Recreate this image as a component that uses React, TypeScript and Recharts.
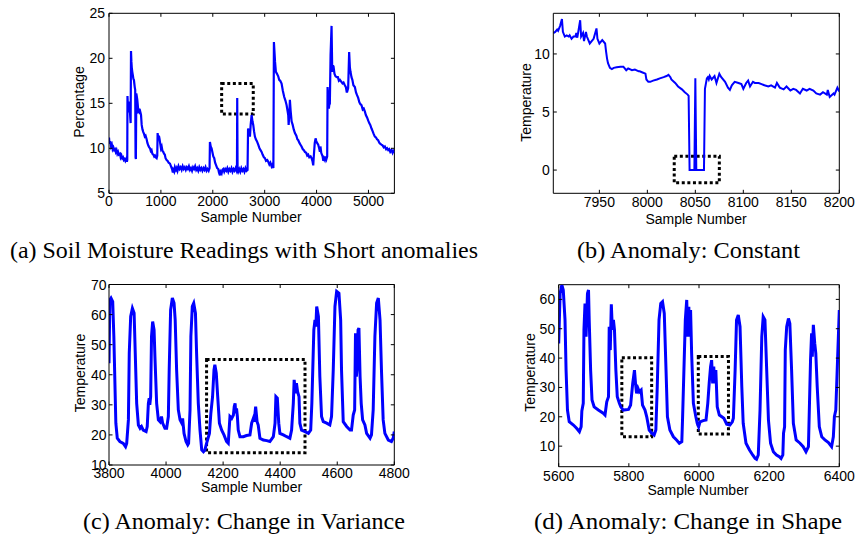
import React from "react";
import { LineChart, Line, XAxis, YAxis, ReferenceArea, ReferenceLine } from "recharts";

// ---------- data ----------
// (a) soil moisture: [sample, percentage]
const soilMoisture: [number, number][] = [
  [0, 11.2], [10, 10.5], [25, 10.8], [40, 10.2], [55, 10.4], [70, 9.9], [85, 10.1], [100, 9.8], [116, 9.9], [130, 9.6],
  [145, 9.8], [160, 9.4], [175, 9.6], [190, 9.3], [212, 9.4], [225, 9.0], [240, 9.2], [255, 8.9], [270, 9.0], [285, 8.7],
  [300, 8.8], [315, 8.6], [330, 8.8], [345, 8.5], [352, 8.7], [356, 15.8], [366, 14.5], [378, 15.2], [390, 14.0], [400, 14.4],
  [410, 13.4], [417, 12.8], [424, 20.8], [432, 19.6], [440, 18.9], [449, 18.5], [460, 18.1], [470, 17.7], [480, 17.6], [488, 17.2],
  [496, 16.8], [505, 16.5], [512, 9.0], [518, 8.8], [526, 16.1], [535, 15.8], [545, 15.4], [555, 14.8], [565, 14.1], [580, 14.2],
  [595, 13.8], [605, 14.0], [617, 13.7], [630, 12.6], [645, 12.1], [661, 11.8], [675, 11.6], [690, 11.3], [705, 11.4], [725, 11.0],
  [740, 10.6], [758, 10.3], [775, 10.1], [790, 10.0], [805, 9.7], [820, 9.8], [835, 9.4], [854, 9.3], [870, 9.1], [885, 9.2],
  [900, 9.0], [918, 8.9], [930, 9.2], [937, 11.7], [950, 11.0], [962, 11.4], [975, 11.0], [990, 10.4], [1001, 10.0], [1015, 10.2],
  [1030, 9.7], [1046, 9.6], [1060, 9.4], [1075, 9.3], [1090, 8.9], [1111, 8.7], [1130, 8.6], [1150, 8.4], [1175, 8.3], [1195, 8.0],
  [1215, 7.7], [1230, 7.3], [1239, 7.6], [1255, 7.4], [1270, 7.9], [1290, 7.6], [1304, 7.8], [1320, 7.5], [1340, 8.0], [1360, 7.7],
  [1380, 7.9], [1400, 7.6], [1420, 8.0], [1440, 7.7], [1460, 7.9], [1480, 7.6], [1500, 7.9], [1520, 7.7], [1540, 8.0], [1560, 7.6],
  [1580, 7.8], [1600, 7.5], [1620, 7.9], [1640, 7.7], [1660, 8.0], [1680, 7.6], [1700, 7.8], [1720, 7.5], [1740, 7.9], [1760, 7.6],
  [1780, 7.8], [1800, 7.5], [1820, 7.8], [1840, 7.6], [1860, 7.9], [1880, 7.5], [1900, 7.7], [1920, 7.5], [1938, 7.8], [1945, 10.7],
  [1960, 10.2], [1977, 10.0], [1995, 9.5], [2010, 9.1], [2028, 8.9], [2045, 8.4], [2065, 8.1], [2085, 7.8], [2105, 7.7], [2120, 7.3],
  [2138, 7.0], [2150, 7.4], [2170, 7.2], [2185, 7.6], [2202, 7.7], [2220, 7.4], [2240, 7.7], [2260, 7.5], [2280, 7.8], [2300, 7.4],
  [2320, 7.7], [2340, 7.5], [2360, 7.8], [2380, 7.4], [2400, 7.7], [2420, 7.5], [2440, 7.8], [2460, 7.5], [2466, 7.7], [2471, 15.6],
  [2478, 7.6], [2490, 7.4], [2510, 7.7], [2530, 7.4], [2550, 7.8], [2570, 7.5], [2590, 7.7], [2610, 7.4], [2630, 7.8], [2650, 7.5],
  [2670, 7.6], [2680, 12.2], [2695, 11.6], [2705, 12.0], [2716, 11.3], [2730, 12.6], [2748, 13.7], [2765, 13.0], [2780, 12.6], [2795, 11.9],
  [2812, 11.3], [2830, 11.0], [2850, 10.8], [2876, 10.4], [2900, 10.0], [2920, 9.8], [2941, 9.6], [2960, 9.3], [2985, 9.0], [3005, 8.9],
  [3025, 8.6], [3050, 8.7], [3069, 8.5], [3090, 8.2], [3110, 8.4], [3133, 8.0], [3150, 8.2], [3168, 7.8], [3178, 21.8], [3190, 20.6],
  [3200, 19.6], [3216, 18.5], [3235, 18.3], [3261, 18.0], [3280, 17.6], [3300, 17.5], [3326, 17.2], [3350, 16.4], [3377, 15.7], [3400, 15.3],
  [3422, 14.8], [3440, 14.2], [3454, 13.7], [3462, 12.6], [3476, 13.9], [3486, 15.4], [3500, 14.2], [3519, 13.0], [3540, 12.6], [3560, 12.1],
  [3583, 11.7], [3610, 11.4], [3630, 11.0], [3647, 10.9], [3670, 10.6], [3690, 10.4], [3711, 10.2], [3735, 9.9], [3755, 9.8], [3775, 9.6],
  [3800, 9.5], [3820, 9.2], [3839, 9.3], [3860, 9.0], [3885, 9.1], [3904, 8.9], [3920, 8.6], [3936, 8.1], [3950, 9.4], [3965, 10.6],
  [3981, 11.1], [3995, 10.8], [4010, 10.6], [4032, 10.4], [4050, 10.0], [4064, 9.6], [4075, 10.2], [4090, 9.5], [4116, 9.1], [4130, 8.6],
  [4145, 8.9], [4160, 8.7], [4175, 9.1], [4190, 8.8], [4205, 9.1], [4212, 16.8], [4222, 16.0], [4237, 14.4], [4248, 15.0], [4256, 15.0],
  [4270, 20.4], [4289, 23.6], [4302, 18.5], [4315, 19.2], [4327, 19.1], [4345, 18.3], [4366, 18.0], [4390, 17.9], [4411, 17.9], [4430, 17.5],
  [4450, 17.6], [4475, 17.4], [4500, 17.2], [4520, 17.3], [4545, 17.0], [4565, 16.8], [4580, 16.3], [4590, 16.3], [4609, 16.7], [4628, 20.7],
  [4642, 19.0], [4654, 18.5], [4673, 17.9], [4690, 17.6], [4710, 17.0], [4738, 16.8], [4760, 16.2], [4780, 15.9], [4802, 15.6], [4825, 15.1],
  [4845, 14.9], [4866, 14.8], [4890, 14.3], [4910, 14.4], [4930, 14.1], [4950, 13.7], [4975, 13.4], [4994, 13.1], [5015, 12.8], [5035, 12.6],
  [5059, 12.2], [5080, 11.9], [5100, 11.6], [5123, 11.3], [5145, 11.2], [5165, 11.0], [5187, 10.9], [5210, 10.6], [5230, 10.5], [5251, 10.4],
  [5275, 10.3], [5295, 10.1], [5316, 10.2], [5340, 9.9], [5360, 10.0], [5380, 9.8], [5400, 9.9], [5420, 9.6], [5444, 9.8], [5465, 9.5],
  [5480, 9.7], [5500, 9.5],
];

// (b) constant anomaly: [sample, temperature]
const constantTemp: [number, number][] = [
  [7902, 11.8], [7904, 11.9], [7906, 12.1], [7907, 12.0], [7909, 12.4], [7911, 13.0], [7912, 11.9], [7914, 11.5], [7916, 11.6], [7918, 11.5],
  [7919, 11.6], [7921, 11.3], [7923, 11.5], [7925, 11.5], [7926, 11.8], [7927, 11.4], [7928, 11.9], [7930, 12.9], [7931, 11.5], [7933, 11.8],
  [7934, 11.1], [7936, 11.9], [7937, 11.5], [7940, 10.9], [7942, 11.1], [7944, 11.3], [7947, 12.2], [7948, 11.3], [7950, 10.9], [7951, 11.0],
  [7953, 11.2], [7956, 10.9], [7957, 10.2], [7958, 9.6], [7959, 9.2], [7961, 8.8], [7963, 8.7], [7965, 8.8], [7968, 8.85], [7972, 8.9],
  [7975, 8.9], [7978, 8.6], [7980, 8.75], [7984, 8.6], [7987, 8.65], [7991, 8.5], [7992, 8.5], [7995, 8.4], [7998, 8.3], [7999, 7.8],
  [8001, 7.6], [8003, 7.6], [8006, 7.7], [8010, 7.8], [8013, 7.9], [8017, 8.0], [8020, 8.1], [8022, 8.2], [8024, 8.0], [8025, 7.8],
  [8029, 7.5], [8032, 7.2], [8036, 6.95], [8039, 6.7], [8042, 6.5], [8043, 6.4], [8044, 0], [8049, 0], [8050, 7.9], [8051, 0],
  [8059, 0], [8060, 7.0], [8062, 7.9], [8063, 8.0], [8064, 7.8], [8065, 8.1], [8067, 7.8], [8070, 8.1], [8072, 7.5], [8075, 8.3],
  [8077, 8.0], [8081, 7.6], [8084, 7.1], [8086, 6.9], [8088, 7.3], [8091, 7.6], [8095, 7.5], [8098, 7.4], [8100, 7.0], [8103, 7.5],
  [8105, 7.7], [8107, 7.2], [8110, 7.6], [8112, 7.5], [8116, 7.5], [8119, 7.4], [8122, 7.3], [8126, 7.2], [8129, 7.3], [8133, 7.1],
  [8135, 7.5], [8138, 7.1], [8142, 6.95], [8145, 7.2], [8149, 6.85], [8152, 7.0], [8155, 6.9], [8159, 6.6], [8162, 7.0], [8166, 6.85],
  [8169, 7.0], [8173, 6.85], [8176, 6.6], [8180, 6.5], [8183, 6.7], [8187, 6.5], [8188, 6.9], [8190, 6.3], [8194, 6.6], [8195, 6.5],
  [8198, 7.1], [8200, 6.75],
];

// (c) change in variance: [sample, temperature]
const varianceTemp: [number, number][] = [
  [3800, 43.8], [3803, 64.9], [3807, 65.5], [3813, 64.3], [3817, 52.7], [3821, 36.1], [3824, 23.9], [3829, 18.9], [3838, 17.8], [3850, 17.2],
  [3858, 16.1], [3862, 17.2], [3868, 25.0], [3871, 47.2], [3876, 59.4], [3882, 62.1], [3888, 60.5], [3892, 47.2], [3897, 30.5], [3903, 23.3],
  [3909, 22.2], [3914, 22.8], [3920, 21.6], [3930, 21.1], [3934, 22.8], [3938, 30.5], [3941, 32.2], [3943, 30.0], [3946, 32.7], [3949, 52.7],
  [3953, 57.7], [3958, 54.9], [3961, 46.0], [3967, 30.5], [3973, 25.0], [3979, 24.4], [3984, 26.1], [3988, 23.9], [3996, 22.2], [4002, 22.2],
  [4008, 26.1], [4011, 41.6], [4016, 61.6], [4022, 65.5], [4028, 63.8], [4032, 58.2], [4037, 41.6], [4043, 28.3], [4049, 25.0], [4055, 23.9],
  [4058, 25.5], [4063, 20.5], [4070, 17.8], [4076, 16.7], [4079, 17.2], [4084, 28.3], [4087, 52.7], [4092, 62.7], [4097, 63.8], [4103, 60.5],
  [4107, 47.2], [4113, 30.5], [4119, 21.6], [4125, 15.0], [4131, 14.4], [4136, 15.0], [4142, 17.2], [4152, 20.5], [4157, 27.2], [4163, 32.7],
  [4168, 41.6], [4171, 43.3], [4176, 40.5], [4181, 32.7], [4187, 23.9], [4195, 21.6], [4203, 20.0], [4212, 17.8], [4218, 17.2], [4224, 26.1],
  [4230, 25.5], [4236, 26.6], [4239, 29.4], [4242, 30.5], [4244, 27.2], [4247, 28.8], [4250, 26.1], [4253, 21.6], [4259, 19.4], [4271, 19.4],
  [4282, 19.8], [4294, 20.0], [4300, 23.9], [4306, 25.5], [4309, 24.4], [4314, 29.4], [4319, 24.4], [4323, 23.3], [4329, 18.9], [4341, 18.3],
  [4353, 18.1], [4364, 17.8], [4376, 19.4], [4382, 23.9], [4385, 32.7], [4390, 32.2], [4395, 23.9], [4399, 20.5], [4411, 20.0], [4423, 19.4],
  [4434, 18.9], [4440, 21.6], [4446, 30.5], [4449, 38.3], [4454, 33.8], [4457, 37.2], [4461, 34.4], [4466, 32.7], [4469, 23.9], [4475, 21.6],
  [4487, 21.1], [4499, 20.5], [4507, 21.6], [4511, 30.5], [4518, 54.9], [4522, 58.2], [4525, 56.0], [4528, 62.7], [4534, 59.4], [4539, 39.4],
  [4545, 26.1], [4551, 24.4], [4563, 23.9], [4574, 23.3], [4580, 26.1], [4586, 41.6], [4592, 62.7], [4598, 67.7], [4606, 67.1], [4612, 58.2],
  [4615, 41.6], [4621, 24.4], [4633, 22.8], [4645, 21.6], [4650, 21.6], [4656, 26.6], [4661, 28.3], [4664, 53.8], [4667, 39.4], [4669, 41.6],
  [4673, 54.9], [4676, 55.5], [4680, 39.4], [4684, 30.5], [4689, 25.0], [4697, 23.3], [4703, 20.5], [4715, 18.9], [4720, 20.0], [4726, 28.3],
  [4732, 52.7], [4738, 63.8], [4744, 65.5], [4750, 58.2], [4755, 41.6], [4761, 25.0], [4767, 20.5], [4779, 18.3], [4790, 17.8], [4796, 18.9],
  [4800, 21.1],
];

// (d) change in shape: [sample, temperature]
const shapeTemp: [number, number][] = [
  [5600, 45.0], [5604, 62.0], [5609, 64.9], [5613, 63.2], [5618, 53.0], [5621, 35.9], [5625, 22.3], [5630, 18.3], [5642, 17.2], [5651, 16.1],
  [5659, 14.9], [5664, 16.6], [5666, 22.0], [5670, 24.6], [5672, 49.6], [5675, 58.6], [5678, 47.3], [5682, 62.0], [5685, 63.2], [5687, 53.0],
  [5691, 35.9], [5695, 25.7], [5701, 23.4], [5713, 22.3], [5727, 21.2], [5732, 20.6], [5737, 25.1], [5742, 26.8], [5744, 50.7], [5747, 42.7],
  [5750, 58.3], [5753, 49.6], [5756, 53.0], [5759, 49.6], [5763, 35.9], [5767, 26.8], [5773, 24.6], [5777, 23.4], [5784, 22.3], [5799, 22.5],
  [5805, 24.0], [5811, 31.4], [5816, 35.9], [5819, 31.4], [5822, 28.0], [5826, 29.7], [5830, 28.5], [5835, 29.1], [5839, 24.0], [5846, 22.3],
  [5851, 20.0], [5858, 15.5], [5865, 14.4], [5872, 13.8], [5877, 15.5], [5881, 30.3], [5886, 53.0], [5891, 58.6], [5896, 59.2], [5901, 55.2],
  [5906, 35.9], [5910, 20.0], [5917, 15.5], [5927, 13.2], [5936, 12.1], [5944, 11.0], [5951, 11.5], [5953, 18.9], [5957, 35.9], [5961, 53.0],
  [5965, 59.8], [5968, 47.3], [5971, 57.5], [5973, 47.3], [5976, 56.4], [5979, 41.6], [5984, 24.6], [5991, 20.0], [5995, 17.8], [5999, 16.6],
  [6003, 18.3], [6012, 18.7], [6020, 18.9], [6025, 24.6], [6029, 31.4], [6033, 37.1], [6036, 39.3], [6039, 31.4], [6042, 37.1], [6045, 31.4],
  [6048, 35.9], [6052, 23.4], [6058, 20.6], [6065, 20.0], [6071, 19.5], [6079, 17.5], [6088, 17.2], [6095, 18.3], [6098, 19.5], [6103, 35.9],
  [6107, 53.0], [6112, 54.7], [6117, 50.7], [6122, 30.3], [6126, 17.8], [6134, 11.0], [6144, 8.7], [6153, 7.0], [6160, 5.8], [6164, 5.5],
  [6169, 7.0], [6174, 22.3], [6179, 47.3], [6183, 54.1], [6188, 53.0], [6193, 35.9], [6198, 18.9], [6204, 11.0], [6212, 8.1], [6221, 7.0],
  [6229, 6.4], [6234, 5.8], [6239, 7.0], [6241, 14.4], [6244, 16.6], [6246, 42.7], [6250, 50.7], [6255, 53.5], [6259, 51.8], [6264, 35.9],
  [6269, 17.8], [6277, 12.1], [6288, 11.0], [6297, 9.8], [6305, 8.1], [6312, 9.8], [6315, 24.6], [6318, 39.3], [6321, 48.4], [6323, 40.5],
  [6326, 51.3], [6330, 45.0], [6333, 41.6], [6337, 30.3], [6343, 16.6], [6350, 13.2], [6359, 12.1], [6369, 11.2], [6378, 9.8], [6383, 13.2],
  [6386, 20.0], [6390, 22.3], [6394, 35.9], [6400, 56.4],
];

// tick values
const aXTicks = [0, 1000, 2000, 3000, 4000, 5000];
const aYTicks = [5, 10, 15, 20, 25];
const bXTicks = [7950, 8000, 8050, 8100, 8150, 8200];
const bYTicks = [0, 5, 10];
const cXTicks = [3800, 4000, 4200, 4400, 4600, 4800];
const cYTicks = [10, 20, 30, 40, 50, 60, 70];
const dXTicks = [5600, 5800, 6000, 6200, 6400];
const dYTicks = [10, 20, 30, 40, 50, 60];

// anomaly boxes [x1, x2, y1, y2]
const aBoxes: [number, number, number, number][] = [[2171, 2780, 13.8, 17.2]];
const bBoxes: [number, number, number, number][] = [[8028, 8075, -1.1, 1.2]];
const cBoxes: [number, number, number, number][] = [[4142, 4487, 14.1, 45.1]];
const dBoxes: [number, number, number, number][] = [[5780, 5865, 13.2, 40.1], [5998, 6084, 14.1, 40.5]];

const SANS = "'Liberation Sans', Arial, Helvetica, sans-serif";
const SERIF = "'Liberation Serif', 'Times New Roman', Times, serif";

const Y_AXIS_W = 40;
const X_AXIS_H = 30;

type PanelProps = {
  left: number;
  top: number;
  width: number;
  height: number;
  plot: { left: number; right: number; top: number; bottom: number }; // plot edges inside the chart box
  series: [number, number][];
  xDomain: [number, number];
  yDomain: [number, number];
  xTicks: number[];
  yTicks: number[];
  boxes: [number, number, number, number][];
  strokeWidth: number;
  xLabelDy: number;
  yLabelDx: number;
};

function Panel(p: PanelProps) {
  const data = p.series.map(([x, y]) => ({ x, y }));
  const plotW = p.plot.right - p.plot.left;
  const plotH = p.plot.bottom - p.plot.top;
  const margin = {
    left: p.plot.left - Y_AXIS_W,
    top: p.plot.top,
    right: p.width - p.plot.right,
    bottom: p.height - p.plot.bottom - X_AXIS_H,
  };
  const TL = 3.5;
  const XTick = (props: any) => {
    const { x, y, payload } = props;
    return (
      <g>
        <line x1={x} x2={x} y1={y} y2={y - TL} stroke="#000" strokeWidth={1} />
        <line x1={x} x2={x} y1={y - plotH} y2={y - plotH + TL} stroke="#000" strokeWidth={1} />
        <text x={x} y={y + p.xLabelDy} textAnchor="middle" fontSize={14} fontFamily={SANS} fill="#000">
          {payload.value}
        </text>
      </g>
    );
  };
  const YTick = (props: any) => {
    const { x, y, payload } = props;
    return (
      <g>
        <line x1={x} x2={x + TL} y1={y} y2={y} stroke="#000" strokeWidth={1} />
        <line x1={x + plotW} x2={x + plotW - TL} y1={y} y2={y} stroke="#000" strokeWidth={1} />
        <text x={x - p.yLabelDx} y={y + 5} textAnchor="end" fontSize={14} fontFamily={SANS} fill="#000">
          {payload.value}
        </text>
      </g>
    );
  };
  return (
    <div style={{ position: "absolute", left: p.left, top: p.top }}>
      <LineChart width={p.width} height={p.height} data={data} margin={margin}>
        <XAxis
          dataKey="x"
          type="number"
          domain={p.xDomain}
          ticks={p.xTicks}
          allowDataOverflow
          height={X_AXIS_H}
          tickSize={0}
          tickMargin={0}
          tickLine={false}
          axisLine={{ stroke: "#000", strokeWidth: 1 }}
          tick={XTick}
          interval={0}
        />
        <YAxis
          type="number"
          domain={p.yDomain}
          ticks={p.yTicks}
          allowDataOverflow
          width={Y_AXIS_W}
          tickSize={0}
          tickMargin={0}
          tickLine={false}
          axisLine={{ stroke: "#000", strokeWidth: 1 }}
          tick={YTick}
          interval={0}
        />
        <ReferenceLine y={p.yDomain[1]} stroke="#000" strokeWidth={1} />
        <ReferenceLine x={p.xDomain[1]} stroke="#000" strokeWidth={1} />
        <Line
          dataKey="y"
          type="linear"
          dot={false}
          stroke="#0000ff"
          strokeWidth={p.strokeWidth}
          isAnimationActive={false}
        />
        {p.boxes.map(([x1, x2, y1, y2], i) => (
          <ReferenceArea
            key={i}
            x1={x1}
            x2={x2}
            y1={y1}
            y2={y2}
            fill="none"
            fillOpacity={0}
            stroke="#000"
            strokeWidth={3}
            strokeDasharray="3 2.6"
          />
        ))}
      </LineChart>
    </div>
  );
}

export default function App() {
  return (
    <div style={{ position: "absolute", left: 0, top: 0, width: 855, height: 537, background: "#fff", overflow: "hidden" }}>
      <Panel
        left={0}
        top={0}
        width={420}
        height={240}
        plot={{ left: 109, right: 394.4, top: 13.3, bottom: 193.3 }}
        series={soilMoisture}
        xDomain={[0, 5500]}
        yDomain={[5, 25]}
        xTicks={aXTicks}
        yTicks={aYTicks}
        boxes={aBoxes}
        strokeWidth={2.2}
        xLabelDy={13}
        yLabelDx={4}
      />
      <Panel
        left={440}
        top={0}
        width={415}
        height={240}
        plot={{ left: 113.3, right: 399.3, top: 13.3, bottom: 193.3 }}
        series={constantTemp}
        xDomain={[7902, 8200]}
        yDomain={[-2, 13.5]}
        xTicks={bXTicks}
        yTicks={bYTicks}
        boxes={bBoxes}
        strokeWidth={2}
        xLabelDy={14}
        yLabelDx={3.5}
      />
      <Panel
        left={0}
        top={270}
        width={420}
        height={240}
        plot={{ left: 109, right: 394.3, top: 14.5, bottom: 195 }}
        series={varianceTemp}
        xDomain={[3800, 4800]}
        yDomain={[10, 70]}
        xTicks={cXTicks}
        yTicks={cYTicks}
        boxes={cBoxes}
        strokeWidth={3}
        xLabelDy={12.5}
        yLabelDx={2.5}
      />
      <Panel
        left={440}
        top={270}
        width={415}
        height={240}
        plot={{ left: 118.7, right: 399.3, top: 14.7, bottom: 196.7 }}
        series={shapeTemp}
        xDomain={[5600, 6400]}
        yDomain={[3, 65]}
        xTicks={dXTicks}
        yTicks={dYTicks}
        boxes={dBoxes}
        strokeWidth={3}
        xLabelDy={14}
        yLabelDx={3.5}
      />
      <svg width={855} height={537} style={{ position: "absolute", left: 0, top: 0, pointerEvents: "none" }}>
        <g fontFamily={SANS} fontSize={14} fill="#000">
          <text x={251} y={222} textAnchor="middle">Sample Number</text>
          <text x={696} y={223.5} textAnchor="middle">Sample Number</text>
          <text x={251.5} y={492} textAnchor="middle">Sample Number</text>
          <text x={698} y={495} textAnchor="middle">Sample Number</text>
          <text transform="translate(84,102) rotate(-90)" textAnchor="middle">Percentage</text>
          <text transform="translate(530.5,102.5) rotate(-90)" textAnchor="middle">Temperature</text>
          <text transform="translate(85,373) rotate(-90)" textAnchor="middle">Temperature</text>
          <text transform="translate(535,372.5) rotate(-90)" textAnchor="middle">Temperature</text>
        </g>
        <g fontFamily={SERIF} fontSize={24} fill="#000">
          <text x={10} y={258} textLength={468} lengthAdjust="spacingAndGlyphs">(a) Soil Moisture Readings with Short anomalies</text>
          <text x={577} y={258} textLength={223} lengthAdjust="spacingAndGlyphs">(b) Anomaly: Constant</text>
          <text x={83} y={529} textLength={322} lengthAdjust="spacingAndGlyphs">(c) Anomaly: Change in Variance</text>
          <text x={534} y={529} textLength={308} lengthAdjust="spacingAndGlyphs">(d) Anomaly: Change in Shape</text>
        </g>
      </svg>
    </div>
  );
}
